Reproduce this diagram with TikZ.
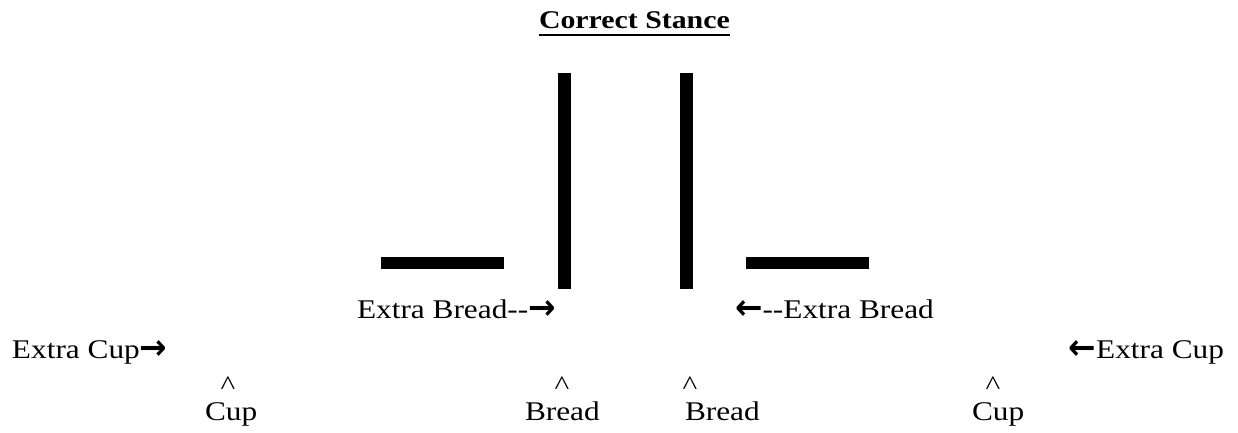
\documentclass[tikz,border=0pt]{standalone}
\usepackage{graphicx}
\usepackage{fontspec}
\setmainfont{Liberation Serif}
\newfontfamily\arrfont{DejaVu Sans}
\newcommand\widetxt[1]{\scalebox{1.16}[1]{#1}}
\newcommand\myrarr{\raisebox{-1pt}{\scalebox{1.05}[1.3]{\arrfont\bfseries →}}}
\newcommand\mylarr{\raisebox{-1pt}{\scalebox{1.05}[1.3]{\arrfont\bfseries ←}}}
\begin{document}
\begin{tikzpicture}[x=1pt,y=-1pt,
  txt/.style={inner sep=0pt, outer sep=0pt, font=\fontsize{27}{32}\selectfont},
  ttl/.style={inner sep=0pt, outer sep=0pt, font=\fontsize{25.5}{30}\selectfont\bfseries},
  bar/.style={fill=black, draw=none}]
\useasboundingbox (0,0) rectangle (1238,432);
% title
\node[ttl, anchor=base west] (title) at (539,28) {\scalebox{1.17}[1]{Correct Stance}};
\draw[line width=2pt] ([yshift=-7pt]title.base west) -- ([yshift=-7pt]title.base east);
% bars
\fill[bar] (381,257) rectangle (504,269);
\fill[bar] (558,73) rectangle (571,289);
\fill[bar] (680,73) rectangle (693,289);
\fill[bar] (746,257) rectangle (869,269);
% labels
\node[txt, anchor=base west] (eb1) at (357,318) {\widetxt{Extra Bread-{}-\myrarr}};
\node[txt, anchor=base west] (eb2) at (735,318) {\widetxt{\mylarr-{}-Extra Bread}};
\node[txt, anchor=base west] (ec1) at (12,358) {\widetxt{Extra Cup\myrarr}};
\node[txt, anchor=base east] (ec2) at (1224,358) {\widetxt{\mylarr Extra Cup}};
\node[txt, anchor=base] (c1) at (228,394) {\widetxt{\textasciicircum}};
\node[txt, anchor=base] (c2) at (562,394) {\widetxt{\textasciicircum}};
\node[txt, anchor=base] (c3) at (690,394) {\widetxt{\textasciicircum}};
\node[txt, anchor=base] (c4) at (993,394) {\widetxt{\textasciicircum}};
\node[txt, anchor=base west] (cup1) at (205,420) {\widetxt{Cup}};
\node[txt, anchor=base west] (br1) at (525,420) {\widetxt{Bread}};
\node[txt, anchor=base west] (br2) at (685,420) {\widetxt{Bread}};
\node[txt, anchor=base west] (cup2) at (972,420) {\widetxt{Cup}};
\end{tikzpicture}
\end{document}
